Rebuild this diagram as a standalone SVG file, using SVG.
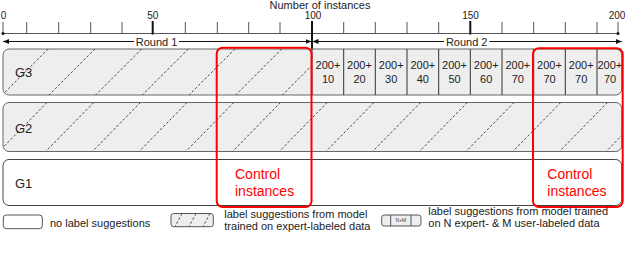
<svg xmlns="http://www.w3.org/2000/svg" width="640" height="253" viewBox="0 0 640 253">
<style>
text{font-family:"Liberation Sans",Arial,sans-serif;fill:#222}
.tick{stroke:#555;stroke-width:1}
.major{stroke:#111;stroke-width:2}
.tl{font-size:10px;text-anchor:middle}
.row{fill:#eeeeee;stroke:#666;stroke-width:1}
.hatch{stroke:#333;stroke-width:0.9;stroke-dasharray:2.5,2;fill:none}
.cell{stroke:#333;stroke-width:1}
.ct{font-size:11px;text-anchor:middle}
.g{font-size:13px}
.red{fill:none;stroke:#ff0000;stroke-width:2}
.redt{font-size:14px;fill:#ff0000}
.leg{font-size:11px}
.arr{stroke:#111;stroke-width:1;fill:none}
</style>
<defs>
<marker id="ah" viewBox="0 0 6 6" refX="6" refY="3" markerWidth="6" markerHeight="6" markerUnits="userSpaceOnUse" orient="auto-start-reverse">
<path d="M0,0.5 L6,3 L0,5.5 Z" fill="#111"/>
</marker>
<clipPath id="c3"><path d="M312,49 H9 Q3,49 3,55 V89 Q3,95 9,95 H312 Z"/></clipPath>
<clipPath id="c2"><rect x="3" y="102.5" width="618.7" height="49" rx="6"/></clipPath>
<clipPath id="cl"><rect x="171" y="213.5" width="42.3" height="13.2" rx="2.5"/></clipPath>
</defs>

<g id="axis">
<text x="320" y="9" style="font-size:11px;text-anchor:middle">Number of instances</text>
<line x1="3" y1="33.5" x2="618" y2="33.5" class="tick"/>
<line x1="3" y1="22" x2="3" y2="33.5" class="tick"/>
<circle cx="3" cy="33.5" r="1.5" fill="#111"/>
<line x1="618" y1="22" x2="618" y2="33.5" class="tick"/>
<circle cx="618" cy="33.5" r="1.5" fill="#111"/>
<g class="tick">
<line x1="26.7" y1="22" x2="26.7" y2="33.5"/>
<line x1="58.7" y1="22" x2="58.7" y2="33.5"/>
<line x1="90.7" y1="22" x2="90.7" y2="33.5"/>
<line x1="122" y1="22" x2="122" y2="33.5"/>
<line x1="185.3" y1="22" x2="185.3" y2="33.5"/>
<line x1="217.3" y1="22" x2="217.3" y2="33.5"/>
<line x1="248.7" y1="22" x2="248.7" y2="33.5"/>
<line x1="280" y1="22" x2="280" y2="33.5"/>
<line x1="343.7" y1="22" x2="343.7" y2="33.5"/>
<line x1="375.3" y1="22" x2="375.3" y2="33.5"/>
<line x1="407" y1="22" x2="407" y2="33.5"/>
<line x1="438.7" y1="22" x2="438.7" y2="33.5"/>
<line x1="502" y1="22" x2="502" y2="33.5"/>
<line x1="533.7" y1="22" x2="533.7" y2="33.5"/>
<line x1="565.3" y1="22" x2="565.3" y2="33.5"/>
<line x1="597" y1="22" x2="597" y2="33.5"/>
</g>
<line x1="152.7" y1="21" x2="152.7" y2="34.5" class="major"/>
<line x1="470.3" y1="21" x2="470.3" y2="34.5" class="major"/>
<line x1="312" y1="21" x2="312" y2="49" class="major"/>
<text x="3.5" y="19" class="tl">0</text>
<text x="152.7" y="19" class="tl">50</text>
<text x="313" y="19" class="tl">100</text>
<text x="470.5" y="19" class="tl">150</text>
<text x="617" y="19" class="tl">200</text>
<text x="156.5" y="45.5" style="font-size:11px;text-anchor:middle">Round 1</text>
<text x="466.7" y="45.5" style="font-size:11px;text-anchor:middle">Round 2</text>
</g>

<g id="connectors">
<line x1="134" y1="41.5" x2="3" y2="41.5" class="arr" marker-end="url(#ah)"/>
<line x1="179" y1="41.5" x2="311.5" y2="41.5" class="arr" marker-end="url(#ah)"/>
<line x1="444" y1="41.5" x2="312.5" y2="41.5" class="arr" marker-end="url(#ah)"/>
<line x1="489.5" y1="41.5" x2="621.7" y2="41.5" class="arr" marker-end="url(#ah)"/>
</g>

<g id="G3">
<rect x="3" y="49" width="618.7" height="46" rx="6" class="row"/>
<g clip-path="url(#c3)" class="hatch">
<line x1="48.2" y1="49" x2="2.2" y2="95"/>
<line x1="94.9" y1="49" x2="48.9" y2="95"/>
<line x1="141.6" y1="49" x2="95.6" y2="95"/>
<line x1="188.3" y1="49" x2="142.3" y2="95"/>
<line x1="235" y1="49" x2="189" y2="95"/>
<line x1="281.7" y1="49" x2="235.7" y2="95"/>
<line x1="328.4" y1="49" x2="282.4" y2="95"/>
</g>
<g class="cell">
<line x1="312" y1="49" x2="312" y2="95"/>
<line x1="343.7" y1="49" x2="343.7" y2="95"/>
<line x1="375.3" y1="49" x2="375.3" y2="95"/>
<line x1="407" y1="49" x2="407" y2="95"/>
<line x1="438.7" y1="49" x2="438.7" y2="95"/>
<line x1="470.3" y1="49" x2="470.3" y2="95"/>
<line x1="502" y1="49" x2="502" y2="95"/>
<line x1="533.7" y1="49" x2="533.7" y2="95"/>
<line x1="565.3" y1="49" x2="565.3" y2="95"/>
<line x1="597" y1="49" x2="597" y2="95"/>
</g>
<g class="ct">
<text x="328" y="68.7">200+</text><text x="328" y="83.3">10</text>
<text x="359.5" y="68.7">200+</text><text x="359.5" y="83.3">20</text>
<text x="391.2" y="68.7">200+</text><text x="391.2" y="83.3">30</text>
<text x="422.8" y="68.7">200+</text><text x="422.8" y="83.3">40</text>
<text x="454.5" y="68.7">200+</text><text x="454.5" y="83.3">50</text>
<text x="486.2" y="68.7">200+</text><text x="486.2" y="83.3">60</text>
<text x="517.8" y="68.7">200+</text><text x="517.8" y="83.3">70</text>
<text x="549.5" y="68.7">200+</text><text x="549.5" y="83.3">70</text>
<text x="581.2" y="68.7">200+</text><text x="581.2" y="83.3">70</text>
<text x="609.8" y="68.7">200+</text><text x="610" y="83.3">70</text>
</g>
<text x="15" y="77.3" class="g">G3</text>
</g>

<g id="G2">
<rect x="3" y="102.5" width="618.7" height="49" rx="6" class="row"/>
<g clip-path="url(#c2)" class="hatch">
<line x1="47" y1="102.5" x2="-1" y2="151.5"/>
<line x1="93.7" y1="102.5" x2="45.7" y2="151.5"/>
<line x1="140.4" y1="102.5" x2="92.4" y2="151.5"/>
<line x1="187.1" y1="102.5" x2="139.1" y2="151.5"/>
<line x1="233.8" y1="102.5" x2="185.8" y2="151.5"/>
<line x1="280.5" y1="102.5" x2="232.5" y2="151.5"/>
<line x1="327.2" y1="102.5" x2="279.2" y2="151.5"/>
<line x1="373.9" y1="102.5" x2="325.9" y2="151.5"/>
<line x1="420.6" y1="102.5" x2="372.6" y2="151.5"/>
<line x1="467.3" y1="102.5" x2="419.3" y2="151.5"/>
<line x1="514" y1="102.5" x2="466" y2="151.5"/>
<line x1="560.7" y1="102.5" x2="512.7" y2="151.5"/>
<line x1="607.4" y1="102.5" x2="559.4" y2="151.5"/>
<line x1="654.1" y1="102.5" x2="606.1" y2="151.5"/>
</g>
<text x="15" y="132.5" class="g">G2</text>
</g>

<g id="G1">
<rect x="3" y="159.5" width="618.7" height="46" rx="6" fill="#ffffff" stroke="#444" stroke-width="1"/>
<text x="15" y="187.5" class="g">G1</text>
</g>

<g id="control-left">
<rect x="216.7" y="47.7" width="94.8" height="159.3" rx="6" class="red"/>
<text x="235" y="179.3" class="redt">Control</text>
<text x="235" y="196" class="redt">instances</text>
</g>

<g id="control-right">
<rect x="533" y="48.2" width="89.7" height="158.8" rx="6" class="red"/>
<text x="547.3" y="179.3" class="redt">Control</text>
<text x="547.3" y="196" class="redt">instances</text>
</g>

<g id="legend">
<rect x="3.3" y="215" width="39" height="13.7" rx="3" fill="#ffffff" stroke="#555" stroke-width="1"/>
<text x="50" y="226.5" class="leg">no label suggestions</text>
<rect x="171" y="213.5" width="42.3" height="13.2" rx="2.5" fill="#eeeeee" stroke="#555" stroke-width="1"/>
<g clip-path="url(#cl)" class="hatch">
<line x1="182" y1="213.5" x2="175" y2="226.7"/>
<line x1="196" y1="213.5" x2="189" y2="226.7"/>
<line x1="210" y1="213.5" x2="203" y2="226.7"/>
</g>
<text x="224.3" y="217.5" class="leg">label suggestions from model</text>
<text x="224.3" y="230" class="leg">trained on expert-labeled data</text>
<rect x="381.7" y="215" width="39.3" height="11" rx="2.5" fill="#eeeeee" stroke="#555" stroke-width="1"/>
<line x1="390.7" y1="215" x2="390.7" y2="226" stroke="#555" stroke-width="1"/>
<line x1="411" y1="215" x2="411" y2="226" stroke="#555" stroke-width="1"/>
<text x="400.9" y="222.3" style="font-size:5px;text-anchor:middle;fill:#444">N+M</text>
<text x="428.3" y="214.5" class="leg">label suggestions from model trained</text>
<text x="428.3" y="227" class="leg">on N expert- &amp; M user-labeled data</text>
</g>
</svg>
